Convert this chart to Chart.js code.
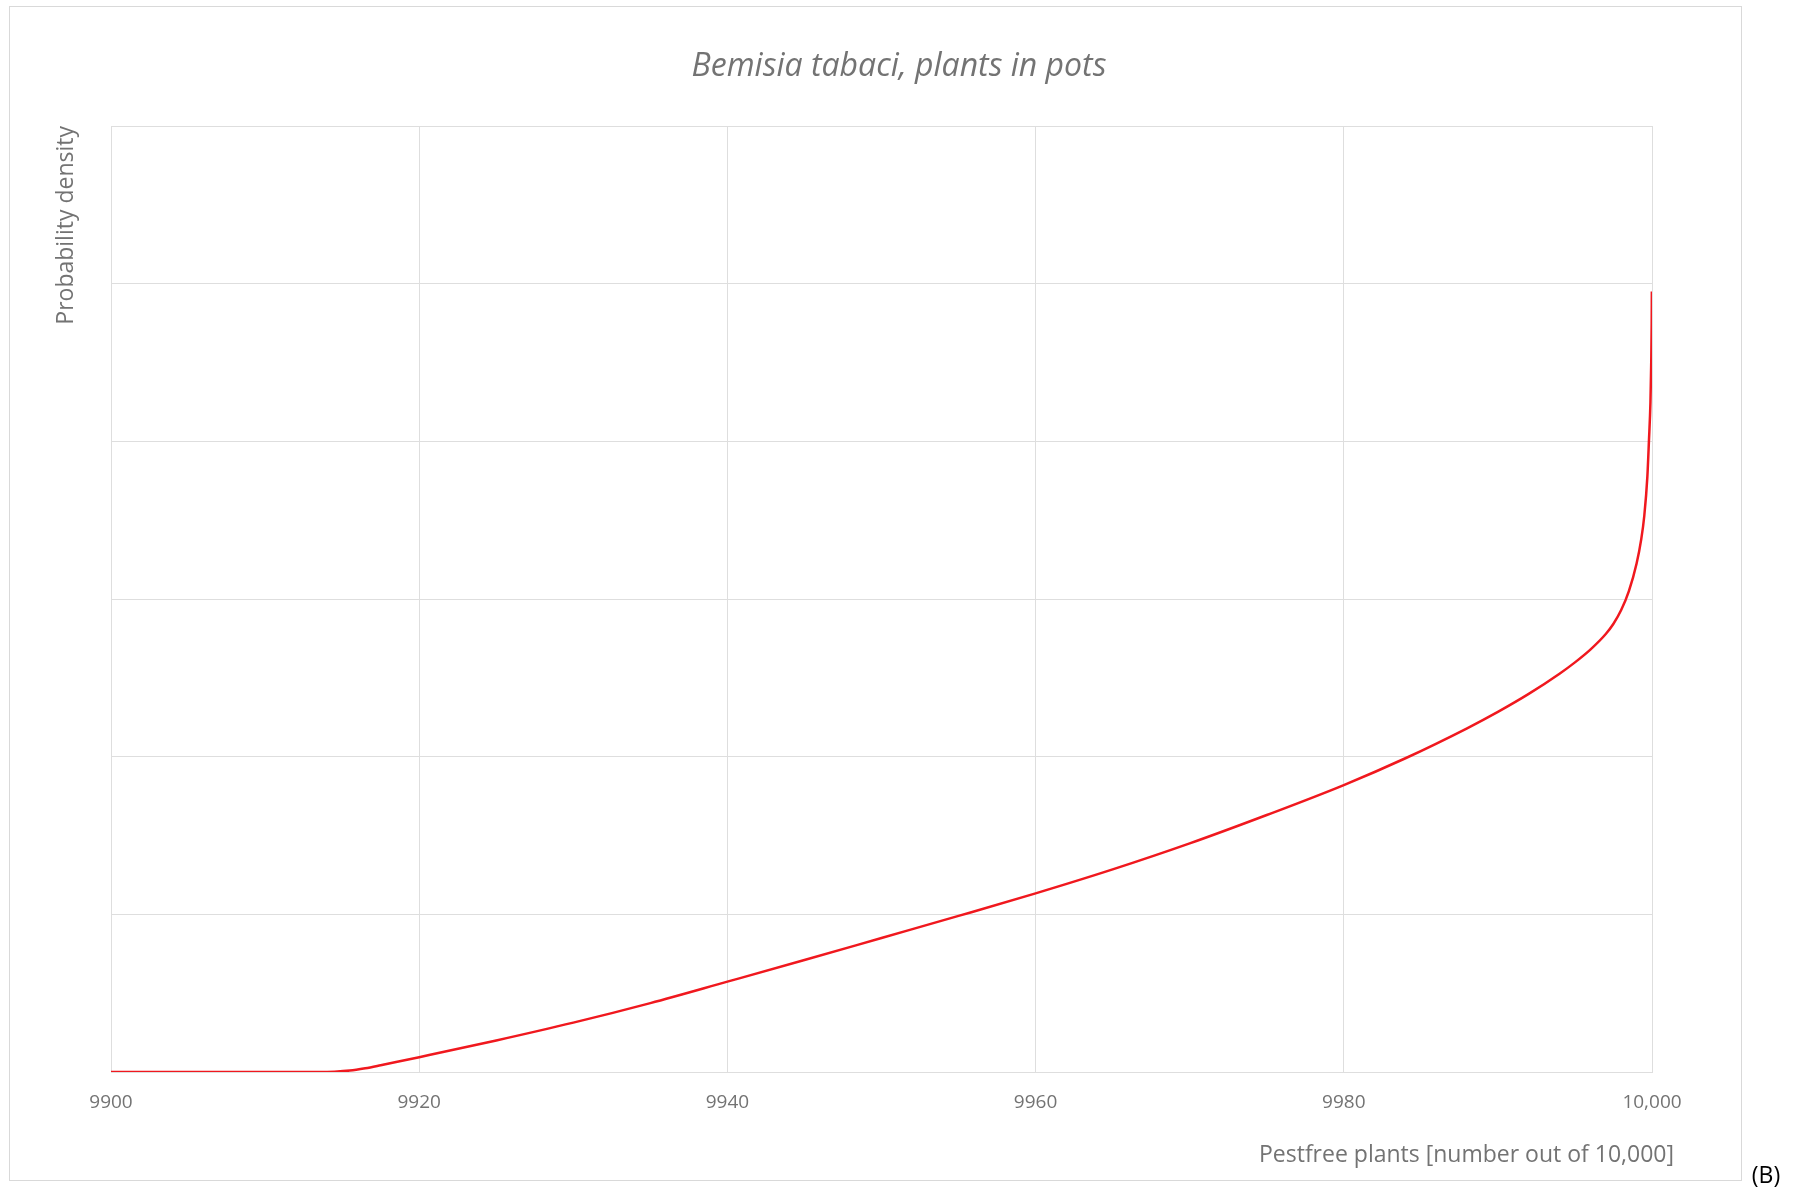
<!DOCTYPE html>
<html>
<head>
<meta charset="utf-8">
<title>Bemisia tabaci, plants in pots</title>
<script src="https://cdn.jsdelivr.net/npm/chart.js@4.4.1/dist/chart.umd.min.js"></script>
<style>
  html, body { margin: 0; padding: 0; background: #ffffff; overflow: hidden; }
  canvas { display: block; }
</style>
</head>
<body>
<canvas id="chart" width="1798" height="1189"></canvas>
<script>
// Pest-free plants out of 10,000 and the probability density at each count
const pestfreePlants = [
  9900, 9905, 9910, 9913.5, 9914.5, 9915.5, 9916.5, 9917.5, 9918.5, 9920,
  9925, 9930, 9935, 9940, 9945, 9950, 9955, 9960, 9965, 9970, 9975, 9980,
  9984, 9988, 9990, 9992, 9994, 9995, 9996, 9997, 9997.5, 9998, 9998.5,
  9999, 9999.3, 9999.5, 9999.7, 9999.8, 9999.9, 9999.95, 9999.98, 9999.99
];
const density = [
  0, 0, 0, 0, 0.002, 0.009, 0.024, 0.043, 0.063, 0.094,
  0.20, 0.313, 0.437, 0.573, 0.71, 0.85, 0.99, 1.133, 1.285, 1.45, 1.63, 1.82,
  1.99, 2.18, 2.284, 2.398, 2.526, 2.598, 2.679, 2.778, 2.843, 2.93, 3.05,
  3.225, 3.378, 3.528, 3.778, 4.0, 4.25, 4.5, 4.75, 4.95
];

// Axis ticks
const xTickValues = [9900, 9920, 9940, 9960, 9980, 10000];
const xTickLabels = ['9900', '9920', '9940', '9960', '9980', '10,000'];

const chartTitle = 'Bemisia tabaci, plants in pots';
const xAxisTitle = 'Pestfree plants [number out of 10,000]';
const yAxisTitle = 'Probability density';
const panelLabel = '(B)';

const textGrey = '#737373';
const gridGrey = '#dedede';
const fontFamily = "'Open Sans', 'Noto Sans', sans-serif";

// White page, light frame around the chart, x-axis title and panel letter
const framePlugin = {
  id: 'frame',
  beforeDraw(chart) {
    const ctx = chart.ctx;
    ctx.save();
    ctx.fillStyle = '#ffffff';
    ctx.fillRect(0, 0, chart.width, chart.height);
    ctx.strokeStyle = '#d9d9d9';
    ctx.lineWidth = 1;
    ctx.strokeRect(9.5, 6.5, 1732, 1174);
    ctx.restore();
  },
  afterDraw(chart) {
    const ctx = chart.ctx;
    const xs = chart.scales.x;
    ctx.save();
    ctx.fillStyle = textGrey;
    ctx.font = "23px " + fontFamily;
    ctx.textAlign = 'right';
    ctx.textBaseline = 'middle';
    ctx.fillText(xAxisTitle, xs.right + 22, 1155);
    ctx.fillStyle = '#000000';
    ctx.font = "23px " + fontFamily;
    ctx.textAlign = 'center';
    ctx.fillText(panelLabel, 1766, 1176);
    ctx.restore();
  }
};

new Chart(document.getElementById('chart'), {
  type: 'line',
  data: {
    datasets: [{
      data: pestfreePlants.map((x, i) => ({ x: x, y: density[i] })),
      borderColor: 'rgb(240, 24, 30)',
      borderWidth: 2.5,
      pointRadius: 0,
      fill: false,
      cubicInterpolationMode: 'monotone'
    }]
  },
  options: {
    responsive: false,
    devicePixelRatio: 1,
    animation: false,
    layout: { padding: 0 },
    plugins: {
      legend: { display: false },
      tooltip: { enabled: false },
      title: {
        display: true,
        text: chartTitle,
        color: textGrey,
        font: { family: fontFamily, size: 32, style: 'italic', weight: 'normal' },
        padding: { top: 48, bottom: 39.6 }
      }
    },
    scales: {
      x: {
        type: 'linear',
        min: 9900,
        max: 10000,
        afterBuildTicks(scale) {
          scale.ticks = xTickValues.map(v => ({ value: v }));
        },
        afterFit(scale) { scale.height = 117; },
        grid: { color: gridGrey, lineWidth: 1, drawTicks: false },
        border: { display: true, color: gridGrey },
        ticks: {
          color: textGrey,
          font: { family: fontFamily, size: 19 },
          padding: 19,
          maxRotation: 0,
          callback(value) {
            const i = xTickValues.indexOf(value);
            return i >= 0 ? xTickLabels[i] : '';
          }
        }
      },
      y: {
        type: 'linear',
        position: 'left',
        min: 0,
        max: 6,
        afterFit(scale) { scale.width = 111; },
        grid: { color: gridGrey, lineWidth: 1, drawTicks: false },
        border: { display: true, color: gridGrey },
        ticks: { display: false, stepSize: 1 },
        title: {
          display: true,
          text: yAxisTitle,
          align: 'end',
          color: textGrey,
          font: { family: fontFamily, size: 23 },
          padding: { top: 53, bottom: 0 }
        }
      },
      yRight: {
        type: 'linear',
        position: 'right',
        afterFit(scale) { scale.width = 146; },
        grid: { display: false, drawOnChartArea: false },
        border: { display: false },
        ticks: { display: false }
      }
    }
  },
  plugins: [framePlugin]
});
</script>
</body>
</html>
